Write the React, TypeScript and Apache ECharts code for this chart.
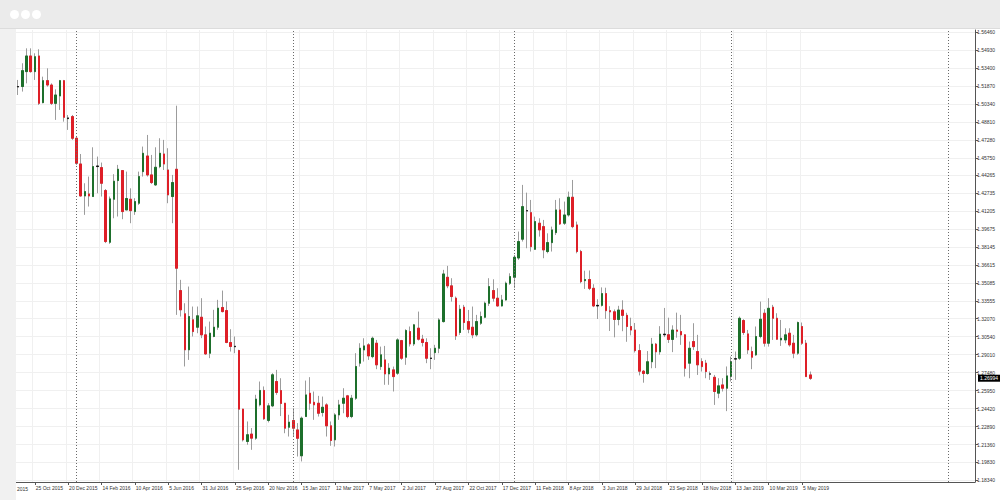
import { useEffect, useRef } from "react";
import * as echarts from "echarts";

// Weekly GBP/USD candles, [open, close, low, high]
const weeks2015 = [
  [1.5178, 1.5182, 1.5110, 1.5238],
  [1.5182, 1.5317, 1.5139, 1.5380],
  [1.5309, 1.5442, 1.5209, 1.5507],
  [1.5442, 1.5309, 1.5300, 1.5507],
  [1.5309, 1.5436, 1.5238, 1.5465],
  [1.5442, 1.5039, 1.5025, 1.5499],
  [1.5045, 1.5232, 1.5039, 1.5266],
  [1.5232, 1.5195, 1.5181, 1.5337],
  [1.5195, 1.5039, 1.5025, 1.5209],
  [1.5039, 1.5110, 1.4898, 1.5158],
  [1.5102, 1.5232, 1.4983, 1.5238],
  [1.5232, 1.4920, 1.4883, 1.5238],
  [1.4915, 1.4909, 1.4813, 1.4940],
  [1.4926, 1.4742, 1.4728, 1.4940],
];

const weeks2016 = [
  [1.4742, 1.4529, 1.4515, 1.4756],
  [1.4523, 1.4251, 1.4246, 1.4608],
  [1.4251, 1.4288, 1.4090, 1.4359],
  [1.4268, 1.4251, 1.4161, 1.4416],
  [1.4246, 1.4501, 1.4246, 1.4665],
  [1.4501, 1.4506, 1.4274, 1.4586],
  [1.4492, 1.4359, 1.4246, 1.4535],
  [1.4297, 1.3863, 1.3850, 1.4310],
  [1.3857, 1.4226, 1.3843, 1.4246],
  [1.4223, 1.4376, 1.4061, 1.4436],
  [1.4382, 1.4478, 1.4076, 1.4515],
  [1.4467, 1.4118, 1.4053, 1.4470],
  [1.4132, 1.4229, 1.4132, 1.4458],
  [1.4223, 1.4126, 1.4019, 1.4316],
  [1.4118, 1.4203, 1.4090, 1.4232],
  [1.4189, 1.4416, 1.4175, 1.4458],
  [1.4458, 1.4614, 1.4416, 1.4671],
  [1.4591, 1.4430, 1.4416, 1.4770],
  [1.4430, 1.4365, 1.4353, 1.4600],
  [1.4345, 1.4495, 1.4336, 1.4665],
  [1.4501, 1.4614, 1.4487, 1.4742],
  [1.4608, 1.4523, 1.4472, 1.4728],
  [1.4472, 1.4260, 1.4189, 1.4657],
  [1.4246, 1.4365, 1.4019, 1.4430],
  [1.4478, 1.3636, 1.3239, 1.5019],
  [1.3446, 1.3282, 1.3225, 1.3537],
  [1.3248, 1.2942, 1.2800, 1.3338],
  [1.2942, 1.3225, 1.2856, 1.3480],
  [1.3197, 1.3097, 1.3055, 1.3310],
  [1.3134, 1.3231, 1.3083, 1.3310],
  [1.3219, 1.3069, 1.3041, 1.3381],
  [1.3069, 1.2907, 1.2899, 1.3140],
  [1.2913, 1.3083, 1.2871, 1.3182],
  [1.3055, 1.3134, 1.3049, 1.3282],
  [1.3134, 1.3296, 1.3112, 1.3367],
  [1.3302, 1.3267, 1.3260, 1.3446],
  [1.3276, 1.3004, 1.2998, 1.3353],
  [1.3004, 1.2970, 1.2927, 1.3117],
  [1.2972, 1.2968, 1.2913, 1.3055],
  [1.2936, 1.2437, 1.1921, 1.2942],
  [1.2437, 1.2176, 1.2162, 1.2440],
  [1.2162, 1.2219, 1.2134, 1.2332],
  [1.2225, 1.2190, 1.2091, 1.2276],
  [1.2190, 1.2522, 1.2176, 1.2559],
  [1.2474, 1.2596, 1.2460, 1.2672],
  [1.2596, 1.2355, 1.2346, 1.2630],
  [1.2341, 1.2465, 1.2324, 1.2488],
  [1.2465, 1.2729, 1.2454, 1.2743],
  [1.2672, 1.2579, 1.2559, 1.2771],
  [1.2595, 1.2485, 1.2378, 1.2700],
  [1.2487, 1.2275, 1.2232, 1.2490],
  [1.2283, 1.2326, 1.2204, 1.2389],
];

const weeks2017 = [
  [1.2340, 1.2275, 1.2204, 1.2445],
  [1.2260, 1.2189, 1.2034, 1.2318],
  [1.2040, 1.2360, 1.1992, 1.2374],
  [1.2374, 1.2558, 1.2374, 1.2680],
  [1.2572, 1.2487, 1.2431, 1.2709],
  [1.2495, 1.2474, 1.2346, 1.2587],
  [1.2487, 1.2402, 1.2374, 1.2550],
  [1.2408, 1.2453, 1.2374, 1.2544],
  [1.2473, 1.2295, 1.2204, 1.2487],
  [1.2295, 1.2170, 1.2125, 1.2332],
  [1.2176, 1.2388, 1.2119, 1.2402],
  [1.2388, 1.2473, 1.2346, 1.2516],
  [1.2487, 1.2530, 1.2402, 1.2615],
  [1.2550, 1.2374, 1.2360, 1.2558],
  [1.2374, 1.2530, 1.2360, 1.2558],
  [1.2530, 1.2800, 1.2516, 1.2913],
  [1.2828, 1.2955, 1.2799, 1.2998],
  [1.2941, 1.2975, 1.2842, 1.3040],
  [1.2984, 1.2890, 1.2856, 1.2998],
  [1.2884, 1.3040, 1.2870, 1.3054],
  [1.2998, 1.2814, 1.2777, 1.3026],
  [1.2799, 1.2899, 1.2771, 1.2969],
  [1.2856, 1.2737, 1.2644, 1.2975],
  [1.2737, 1.2785, 1.2644, 1.2828],
  [1.2771, 1.2714, 1.2587, 1.2799],
  [1.2743, 1.3026, 1.2729, 1.3040],
  [1.3020, 1.2870, 1.2856, 1.3026],
  [1.2879, 1.3106, 1.2814, 1.3117],
  [1.3097, 1.2992, 1.2970, 1.3140],
  [1.2992, 1.3154, 1.2975, 1.3162],
  [1.3126, 1.3032, 1.3021, 1.3267],
  [1.3032, 1.3004, 1.2970, 1.3069],
  [1.3004, 1.2870, 1.2828, 1.3040],
  [1.2872, 1.2868, 1.2777, 1.2955],
  [1.2918, 1.2955, 1.2856, 1.2984],
  [1.2955, 1.3196, 1.2913, 1.3211],
  [1.3182, 1.3587, 1.3174, 1.3622],
  [1.3559, 1.3486, 1.3466, 1.3656],
  [1.3486, 1.3395, 1.3352, 1.3551],
  [1.3381, 1.3060, 1.3026, 1.3395],
  [1.3089, 1.3287, 1.3069, 1.3324],
  [1.3304, 1.3174, 1.3111, 1.3324],
  [1.3182, 1.3117, 1.3083, 1.3281],
  [1.3134, 1.3069, 1.3040, 1.3310],
  [1.3069, 1.3182, 1.3054, 1.3239],
  [1.3168, 1.3225, 1.3154, 1.3267],
  [1.3219, 1.3338, 1.3211, 1.3352],
  [1.3338, 1.3480, 1.3315, 1.3551],
  [1.3446, 1.3381, 1.3352, 1.3542],
  [1.3381, 1.3315, 1.3310, 1.3466],
  [1.3315, 1.3366, 1.3310, 1.3409],
  [1.3366, 1.3508, 1.3361, 1.3522],
  [1.3508, 1.3565, 1.3494, 1.3593],
];

const weeks2018 = [
  [1.3559, 1.3729, 1.3466, 1.3749],
  [1.3723, 1.3863, 1.3707, 1.3948],
  [1.3883, 1.4160, 1.3863, 1.4345],
  [1.4126, 1.4123, 1.3806, 1.4279],
  [1.4109, 1.3820, 1.3778, 1.4217],
  [1.3797, 1.4033, 1.3792, 1.4075],
  [1.4019, 1.3962, 1.3905, 1.4061],
  [1.3990, 1.3792, 1.3721, 1.4047],
  [1.3778, 1.3854, 1.3763, 1.3933],
  [1.3854, 1.3962, 1.3778, 1.3990],
  [1.3939, 1.4132, 1.3919, 1.4217],
  [1.4132, 1.4013, 1.4004, 1.4231],
  [1.4019, 1.4089, 1.4004, 1.4203],
  [1.4089, 1.4240, 1.4075, 1.4288],
  [1.4240, 1.3990, 1.3976, 1.4387],
  [1.4004, 1.3778, 1.3763, 1.4033],
  [1.3778, 1.3522, 1.3508, 1.3792],
  [1.3530, 1.3540, 1.3460, 1.3615],
  [1.3540, 1.3465, 1.3450, 1.3617],
  [1.3465, 1.3315, 1.3305, 1.3500],
  [1.3315, 1.3320, 1.3204, 1.3372],
  [1.3320, 1.3420, 1.3310, 1.3473],
  [1.3420, 1.3275, 1.3205, 1.3470],
  [1.3275, 1.3265, 1.3102, 1.3313],
  [1.3265, 1.3200, 1.3048, 1.3285],
  [1.3200, 1.3280, 1.3150, 1.3316],
  [1.3280, 1.3235, 1.3100, 1.3363],
  [1.3235, 1.3140, 1.3010, 1.3257],
  [1.3140, 1.3110, 1.3065, 1.3215],
  [1.3110, 1.2935, 1.2919, 1.3170],
  [1.2935, 1.2760, 1.2724, 1.2990],
  [1.2760, 1.2740, 1.2662, 1.2770],
  [1.2740, 1.2840, 1.2730, 1.2931],
  [1.2840, 1.2990, 1.2785, 1.3043],
  [1.2990, 1.2925, 1.2786, 1.3000],
  [1.2925, 1.3075, 1.2900, 1.3143],
  [1.3075, 1.3070, 1.3050, 1.3298],
  [1.3070, 1.3030, 1.3000, 1.3215],
  [1.3030, 1.3110, 1.2922, 1.3150],
  [1.3110, 1.3100, 1.3045, 1.3258],
  [1.3097, 1.3069, 1.2984, 1.3239],
  [1.3069, 1.2785, 1.2714, 1.3075],
  [1.2828, 1.2955, 1.2700, 1.3012],
  [1.3012, 1.2969, 1.2941, 1.3168],
  [1.2927, 1.2814, 1.2728, 1.3069],
  [1.2842, 1.2799, 1.2757, 1.2870],
  [1.2828, 1.2757, 1.2700, 1.2856],
  [1.2737, 1.2735, 1.2686, 1.2757],
  [1.2708, 1.2587, 1.2473, 1.2728],
  [1.2573, 1.2635, 1.2530, 1.2700],
  [1.2643, 1.2615, 1.2587, 1.2700],
  [1.2615, 1.2720, 1.2420, 1.2800],
];

const weeks2019 = [
  [1.2714, 1.2842, 1.2672, 1.2884],
  [1.2863, 1.2866, 1.2686, 1.2927],
  [1.2870, 1.3210, 1.2856, 1.3225],
  [1.3191, 1.3089, 1.3069, 1.3202],
  [1.3077, 1.2941, 1.2907, 1.3111],
  [1.2927, 1.2879, 1.2777, 1.2969],
  [1.2899, 1.3055, 1.2890, 1.3140],
  [1.3055, 1.3202, 1.3040, 1.3352],
  [1.3253, 1.2998, 1.2969, 1.3287],
  [1.2998, 1.3295, 1.2969, 1.3381],
  [1.3304, 1.3210, 1.3026, 1.3324],
  [1.3210, 1.3032, 1.3026, 1.3253],
  [1.3026, 1.3040, 1.2975, 1.3196],
  [1.3026, 1.3069, 1.2998, 1.3125],
  [1.3083, 1.2984, 1.2969, 1.3125],
  [1.2998, 1.2913, 1.2870, 1.3069],
  [1.2913, 1.3174, 1.2899, 1.3182],
  [1.3140, 1.2998, 1.2984, 1.3174],
  [1.2998, 1.2714, 1.2714, 1.3026],
  [1.2728, 1.2699, 1.2686, 1.2757],
];

const priceLabels = [
  1.5646, 1.5493, 1.534, 1.5187, 1.5034, 1.4881, 1.4728, 1.4575, 1.44265,
  1.42735, 1.41205, 1.39675, 1.38145, 1.36615, 1.35085, 1.33555, 1.3207,
  1.3054, 1.2901, 1.2748, 1.2595, 1.2442, 1.2289, 1.2136, 1.1983, 1.1834,
];

const firstWeekUTC = Date.UTC(2015, 8, 27);
const weekSlots = 230;
const monthNames = ["Jan", "Feb", "Mar", "Apr", "May", "Jun", "Jul", "Aug", "Sep", "Oct", "Nov", "Dec"];
const yearStartWeeks = [14, 66, 119, 171, 223];
const lastPrice = 1.26994;
const priceMin = 1.1817;
const priceMax = 1.5663;

const BULL = "#1d6f2b";
const BEAR = "#de1f27";
const WICK = "#9c9c9c";
const FONT = "Liberation Sans, Arial, sans-serif";

function weekName(i: number): string {
  const d = new Date(firstWeekUTC + i * 7 * 86400000);
  return `${d.getUTCDate()} ${monthNames[d.getUTCMonth()]} ${d.getUTCFullYear()}`;
}

export default function App() {
  const ref = useRef<HTMLDivElement>(null);

  useEffect(() => {
    document.body.style.margin = "0";
    if (!ref.current) return;
    const chart = echarts.init(ref.current, undefined, { renderer: "svg" });

    const candles = [...weeks2015, ...weeks2016, ...weeks2017, ...weeks2018, ...weeks2019];
    const n = candles.length;
    const cats = Array.from({ length: weekSlots }, (_, i) => weekName(i));
    const showLabel = (i: number) => i % 8 === 4 && i < n;

    const wickData = candles.map((c) => [c[0], c[1], c[2], c[3]]);
    const bodyData = candles.map((c) => {
      const v = [c[0], c[1], Math.min(c[0], c[1]), Math.max(c[0], c[1])];
      if (Math.abs(c[0] - c[1]) < 0.0008) {
        return { value: v, itemStyle: { color: "#111", color0: "#111", borderColor: "#111", borderColor0: "#111" } };
      }
      return v;
    });

    chart.setOption({
      animation: false,
      backgroundColor: "#ffffff",
      grid: { left: 16, right: 25, top: 30, bottom: 18, containLabel: false },
      xAxis: {
        type: "category",
        data: cats,
        boundaryGap: true,
        axisLine: { show: true, lineStyle: { color: "#555", width: 1 } },
        axisTick: { show: true, interval: (i: number) => showLabel(i), alignWithLabel: true, length: 3, lineStyle: { color: "#555" } },
        axisLabel: {
          interval: (i: number) => showLabel(i),
          align: "left",
          fontSize: 5,
          fontFamily: FONT,
          color: "#333",
          margin: 3,
          padding: [0, 0, 0, 1],
        },
        splitLine: { show: true, interval: (i: number) => showLabel(i), lineStyle: { color: "#f0f0f0", width: 1 } },
      },
      yAxis: {
        type: "value",
        position: "right",
        min: priceMin,
        max: priceMax,
        scale: true,
        axisLine: { show: true, lineStyle: { color: "#555", width: 1 } },
        axisTick: { show: true, length: 3, customValues: priceLabels, lineStyle: { color: "#555" } },
        axisLabel: {
          customValues: priceLabels,
          formatter: (v: number) => v.toFixed(5),
          fontSize: 5,
          fontFamily: FONT,
          color: "#333",
          margin: 2,
        },
        splitLine: { show: true, lineStyle: { color: "#f0f0f0", width: 1 } },
      },
      series: [
        {
          type: "candlestick",
          name: "wicks",
          data: wickData,
          barWidth: 2,
          itemStyle: { color: WICK, color0: WICK, borderColor: WICK, borderColor0: WICK, borderWidth: 1 },
          markLine: {
            silent: true,
            symbol: "none",
            animation: false,
            label: { show: false },
            lineStyle: { color: "#6a6a6a", type: [1, 2], width: 1 },
            data: yearStartWeeks.map((w) => ({ xAxis: cats[w] })),
          },
        },
        {
          type: "candlestick",
          name: "bodies",
          data: bodyData,
          barWidth: 2,
          itemStyle: { color: BULL, color0: BEAR, borderColor: BULL, borderColor0: BEAR, borderWidth: 1 },
          markLine: {
            silent: true,
            symbol: "none",
            animation: false,
            lineStyle: { color: "rgba(0,0,0,0)", width: 1 },
            label: {
              show: true,
              position: "end",
              formatter: lastPrice.toFixed(5),
              backgroundColor: "#000",
              color: "#fff",
              fontSize: 5,
              fontFamily: FONT,
              padding: [1, 2, 1, 2],
              distance: 3,
            },
            data: [{ yAxis: lastPrice }],
          },
        },
      ],
      graphic: [
        {
          type: "text",
          left: 17,
          top: 486,
          silent: true,
          style: { text: "2015", fontSize: 5, fontFamily: FONT, fill: "#333" },
        },
      ],
    });

    return () => chart.dispose();
  }, []);

  return (
    <div style={{ position: "relative", width: 1000, height: 500, background: "#fff", overflow: "hidden" }}>
      <div ref={ref} style={{ position: "absolute", left: 0, top: 0, width: 1000, height: 500 }} />
      <div style={{ position: "absolute", left: 0, top: 0, width: 1000, height: 28, background: "#ebebeb", borderBottom: "1px solid #dcdcdc" }}>
        {[14, 25, 36].map((cx) => (
          <div
            key={cx}
            style={{ position: "absolute", left: cx - 4.5, top: 9.5, width: 9, height: 9, borderRadius: "50%", background: "#fff" }}
          />
        ))}
      </div>
      <div style={{ position: "absolute", left: 0, top: 29, width: 16, height: 471, background: "#f1f1f1" }} />
    </div>
  );
}
